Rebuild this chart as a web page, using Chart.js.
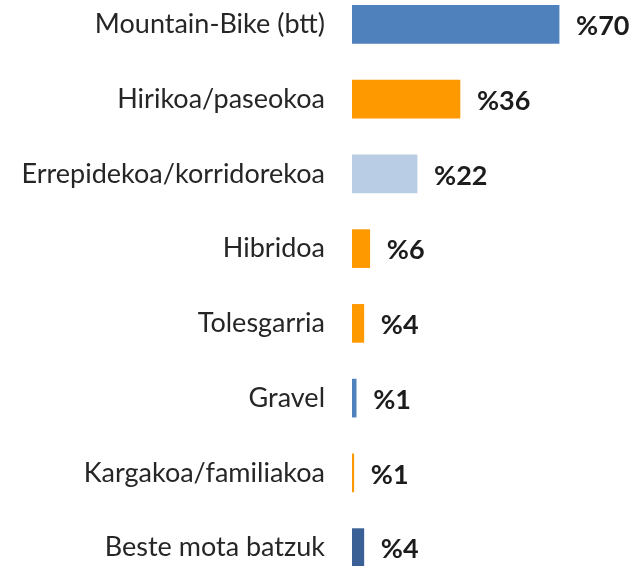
<!DOCTYPE html>
<html>
<head>
<meta charset="utf-8">
<script src="https://cdn.jsdelivr.net/npm/chart.js@4/dist/chart.umd.min.js"></script>
<style>
  html, body { margin: 0; padding: 0; background: #fff; overflow: hidden; width: 636px; height: 566px; }
  #wrap { position: absolute; left: 0; top: -13px; width: 636px; height: 598px; }
</style>
</head>
<body>
<div id="wrap"><canvas id="c" width="636" height="598"></canvas></div>
<script>
const categories = ["Mountain-Bike (btt)", "Hirikoa/paseokoa", "Errepidekoa/korridorekoa", "Hibridoa", "Tolesgarria", "Gravel", "Kargakoa/familiakoa", "Beste mota batzuk"];
const values = [70, 36.5, 22, 6, 4, 1.4, 0.6, 4];
const valueLabels = ["%70", "%36", "%22", "%6", "%4", "%1", "%1", "%4"];
const barColors = ["#4F81BD", "#FF9900", "#B9CDE5", "#FF9900", "#FF9900", "#4F81BD", "#FF9900", "#3B6095"];

const valueLabelPlugin = {
  id: 'valueLabels',
  afterDatasetsDraw(chart) {
    const ctx = chart.ctx;
    const meta = chart.getDatasetMeta(0);
    ctx.save();
    ctx.font = "bold 27px Lato";
    ctx.fillStyle = "#1c1c1c";
    ctx.textAlign = "left";
    ctx.textBaseline = "middle";
    meta.data.forEach((bar, i) => {
      ctx.fillText(valueLabels[i], bar.x + 17, bar.y + 2);
    });
    ctx.restore();
  }
};

new Chart(document.getElementById('c'), {
  type: 'bar',
  data: {
    labels: categories,
    datasets: [{
      data: values,
      backgroundColor: barColors,
      borderWidth: 0,
      barThickness: 38
    }]
  },
  options: {
    indexAxis: 'y',
    responsive: false,
    animation: false,
    layout: { padding: 0, autoPadding: false },
    plugins: { legend: { display: false }, tooltip: { enabled: false } },
    scales: {
      x: { display: false, min: 0, max: 96 },
      y: {
        grid: { display: false, drawTicks: false },
        border: { display: false },
        afterFit(scale) { scale.width = 352; scale.paddingTop = 0; scale.paddingBottom = 0; },
        ticks: {
          padding: 27,
          color: "#262626",
          font: { family: "Lato", size: 27 }
        }
      }
    }
  },
  plugins: [valueLabelPlugin]
});
</script>
</body>
</html>
